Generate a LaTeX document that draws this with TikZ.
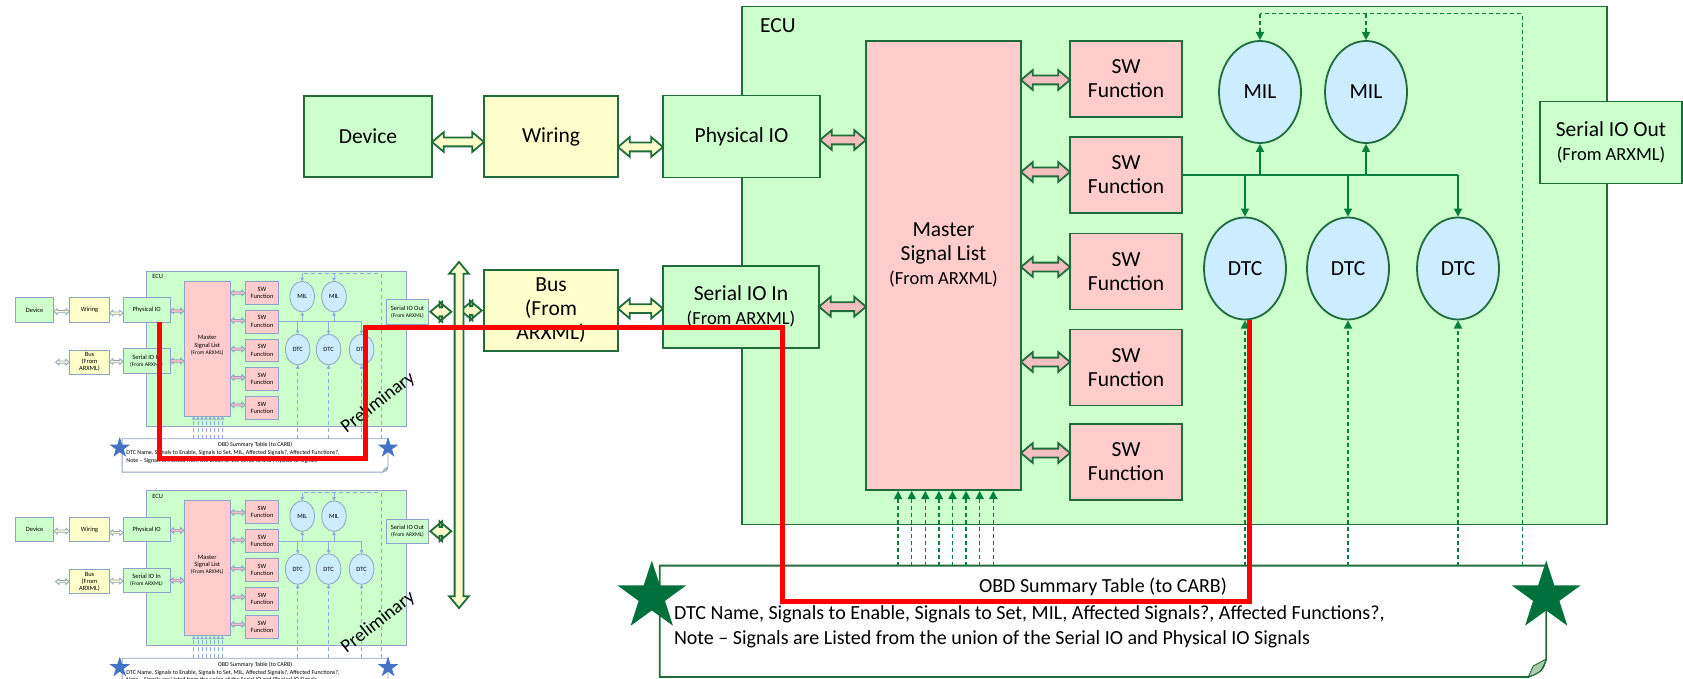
\documentclass[tikz,border=0pt]{standalone}
\usepackage{fontspec}
\setmainfont{Carlito}
\usetikzlibrary{arrows.meta,calc,positioning,shapes.geometric,shapes.arrows}
\definecolor{Leaf}{HTML}{CCFFCC}
\definecolor{Cream}{HTML}{FFFFCC}
\definecolor{Blush}{HTML}{FFCCCC}
\definecolor{Rose}{HTML}{F6BFBF}
\definecolor{Sky}{HTML}{CCECFF}
\definecolor{Forest}{HTML}{1F6B3A}
\definecolor{Moss}{HTML}{00803C}
\definecolor{Pine}{HTML}{00703C}
\definecolor{Slate}{HTML}{8DA2C4}
\definecolor{Steel}{HTML}{8FAADC}
\definecolor{Royal}{HTML}{4472C4}
\colorlet{Rim}{Forest}
\colorlet{Link}{Moss}
\colorlet{Spark}{Pine}
\newcommand{\rimw}{1.8}
\newcommand{\subfont}{\fontsize{18.5}{21}\selectfont}

\newcommand{\ecuslide}[5]{%
  \colorlet{Rim}{#1}\colorlet{Link}{#2}\colorlet{Spark}{#3}\def\rimw{#4}%
  \node[ecubox] (ecu) at (1174.4,265.5) {};
  \node[txt, anchor=north west] (ecu-t) at ([xshift=19,yshift=-13]ecu.north west) {ECU};
  \node[gbox, minimum width=128, minimum height=81] (dev) at (368,136.5) {Device};
  \node[ybox, minimum width=134, minimum height=81] (wir) at (551,136.5) {Wiring};
  \node[gbox, minimum width=157, minimum height=82] (phy) at (741.5,136.5) {Physical IO};
  \node[ybox, minimum width=134, minimum height=81] (bus) at (551,310.5) {Bus\\(From\\ARXML)};
  \node[gbox, minimum width=156, minimum height=82] (sin) at (741,306.7) {Serial IO In\\\subfont (From ARXML)};
  \node[pbox, minimum width=155, minimum height=449] (msl) at (943.5,265.5) {};
  \node[txt, align=center] (msl-t) at ([yshift=11]msl.center) {Master\\Signal List\\\subfont (From ARXML)};
  \foreach \i/\y in {1/79,2/175,3/271.5,4/367.5,5/462}
    \node[pbox, minimum width=112, minimum height=76] (sw\i) at (1126,\y) {SW\\Function};
  \node[oval] (mil1) at (1260,92) {MIL};
  \node[oval] (mil2) at (1366,92) {MIL};
  \node[oval] (dtc1) at (1245,268.5) {DTC};
  \node[oval] (dtc2) at (1348,268.5) {DTC};
  \node[oval] (dtc3) at (1458,268.5) {DTC};
  \node[gbox, minimum width=142, minimum height=82] (sout) at (1611,142.5) {Serial IO Out\\\subfont (From ARXML)};
  \node[dbl=Cream, minimum height=52, yshift=-5.5] (dw) at ($(dev.east)!.5!(wir.west)$) {};
  \node[dbl=Cream, minimum height=45, yshift=-10.5] (wp) at ($(wir.east)!.5!(phy.west)$) {};
  \node[dbl=Rose, minimum height=46, yshift=-3.5] (pm) at ($(phy.east)!.5!(msl.west |- phy.east)$) {};
  \node[dbl=Cream, minimum height=45] (bs) at ($(bus.east)!.5!(sin.west)$) {};
  \node[dbl=Rose, minimum height=47] (sm) at ($(sin.east)!.5!(msl.west |- sin.east)$) {};
  \node[dbl=Cream, minimum height=#5, left=0pt of bus] (busin) {};
  \foreach \i/\d in {1/-1,2/3,3/4.5,4/5.5,5/9}
    \node[dbl=Rose, minimum height=49, yshift=\d] (ms\i) at ($(msl.east |- sw\i.west)!.5!(sw\i.west)$) {};
  \draw[link] (sw2.east) -- (sw2.east -| dtc3);
  \foreach \o in {mil1,mil2}
    \draw[link, arr] (sw2.east -| \o) -- (\o.south);
  \foreach \o in {dtc1,dtc2,dtc3}
    \draw[link, arr] (sw2.east -| \o) -- (\o.north);
  \node[docbox] (obd) at (1103,621.3) {};
  \draw[draw=Rim, line width=\rimw] (obd.south west) -- (obd.north west) -- (obd.north east) -- ([yshift=18]obd.south east)
    .. controls ([xshift=-4,yshift=6]obd.south east) .. ([xshift=-18]obd.south east) -- cycle;
  \filldraw[draw=Rim, fill=Leaf!60!gray, line width=0.5*\rimw] ([yshift=18]obd.south east) -- ([xshift=-13,yshift=11]obd.south east)
    -- ([xshift=-18]obd.south east) .. controls ([xshift=-5,yshift=5]obd.south east) .. ([yshift=18]obd.south east);
  \coordinate (tap) at ([xshift=-24]obd.north east);
  \coordinate (ridge) at ([yshift=-8]ecu.north);
  \draw[dsh] (tap) |- (ridge -| mil1);
  \foreach \o in {mil1,mil2}
    \draw[dsh, arr] (ridge -| \o) -- (\o.north);
  \foreach \o in {dtc1,dtc2,dtc3}
    \draw[dsh, arr] (\o.south |- obd.north) -- (\o.south);
  \foreach \k in {0,...,7}{
    \coordinate (foot\k) at ([xshift=33+13.6*\k]msl.south west);
    \draw[dsh, arr] (foot\k |- obd.north) -- (foot\k);
  }
  \node[doctxt] (obd-t) at ([yshift=-21]obd.north) {OBD Summary Table (to CARB)};
  \node[doctxt, anchor=north west] (obd-b) at ([xshift=14,yshift=-40]obd.north west)
    {DTC Name, Signals to Enable, Signals to Set, MIL, Affected Signals?, Affected Functions?,\\Note -- Signals are Listed from the union of the Serial IO and Physical IO Signals};
  \node[spark] (star-l) at ([xshift=-8,yshift=-31]obd.north west) {};
  \node[spark] (star-r) at ([yshift=-31]obd.north east) {};
}

\begin{document}
\begin{tikzpicture}[x=1pt, y=-1pt,
    ecubox/.style={draw=Rim, fill=Leaf, line width=\rimw, minimum width=865, minimum height=518, inner sep=0},
    gbox/.style={draw=Rim, fill=Leaf, line width=\rimw, align=center, inner sep=0, font=\fontsize{21.5}{24}\selectfont},
    ybox/.style={gbox, fill=Cream},
    pbox/.style={gbox, fill=Blush},
    oval/.style={gbox, ellipse, fill=Sky, minimum width=82, minimum height=102},
    txt/.style={inner sep=0, font=\fontsize{21.5}{24}\selectfont},
    docbox/.style={fill=white, minimum width=886, minimum height=111, inner sep=0},
    doctxt/.style={inner sep=0, align=left, font=\fontsize{20}{25}\selectfont},
    dbl/.style={double arrow, draw=Rim, fill=#1, line width=\rimw, inner xsep=0, inner ysep=3.5,
      double arrow head extend=5.5, double arrow tip angle=80},
    link/.style={draw=Link, line width=0.75*\rimw},
    dsh/.style={link, dash pattern=on 4pt off 3pt},
    arr/.style={-{Triangle[length=0pt 6, width=0pt 6]}},
    spark/.style={star, star points=5, star point ratio=2.6, minimum size=72, inner sep=0, fill=Spark},
    prelim/.style={inner sep=0, rotate=38, font=\fontsize{63}{70}\selectfont},
    redline/.style={draw=red, line width=5, line join=miter}]
  \useasboundingbox (0,0) rectangle (1683,679);
  \clip (0,0) rectangle (1683,679);
  \begin{scope}[shift={(-75.8,269)}, scale=0.3, transform shape, name prefix=t1-]
    \ecuslide{Slate}{Steel}{Royal}{0.8}{45}
    \node[prelim] (prelim) at (1513,446) {Preliminary};
  \end{scope}
  \begin{scope}[shift={(-75.8,488.5)}, scale=0.3, transform shape, name prefix=t2-]
    \ecuslide{Slate}{Steel}{Royal}{0.8}{45}
    \node[prelim] (prelim) at (1513,446) {Preliminary};
  \end{scope}
  \begin{scope}[name prefix=m-]
    \ecuslide{Forest}{Moss}{Pine}{1.8}{21}
  \end{scope}
  \node[dbl=Cream, shape border rotate=90, inner xsep=3.5, inner ysep=3.5, minimum height=346] (bar) at (459,435) {};
  \node[dbl=Cream, minimum height=21, right=0pt of t1-sout] (feed1) {};
  \node[dbl=Cream, minimum height=21, right=0pt of t2-sout] (feed2) {};
  \coordinate (bend1) at (365,458);
  \coordinate (bend2) at (782,327);
  \coordinate (bend3) at (782,601);
  \draw[redline] ([xshift=13]t1-phy.south) |- (bend1) |- (bend2) -- (bend3) -| ([xshift=4]m-dtc1.south);
\end{tikzpicture}
\end{document}
